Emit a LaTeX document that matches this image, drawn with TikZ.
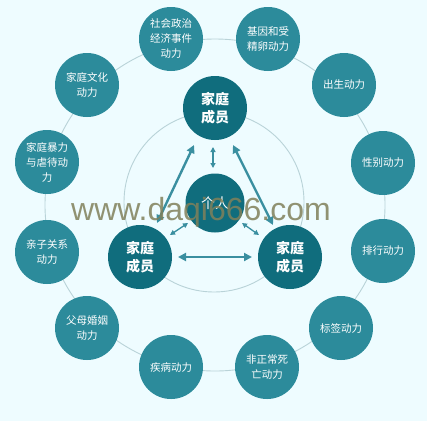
\documentclass[tikz,border=0pt]{standalone}
\usepackage{fontspec}
\setmainfont{Liberation Sans}
\newfontfamily\cjk{Noto Sans CJK SC}
\usetikzlibrary{arrows.meta}
\definecolor{bgc}{HTML}{EEFCFF}
\definecolor{outerc}{HTML}{2C8B9B}
\definecolor{innerc}{HTML}{106D7D}
\definecolor{ringc}{HTML}{B9D3D8}
\definecolor{arrc}{HTML}{3A8FA0}
\definecolor{wmc}{HTML}{80805A}
\tikzset{
  outernode/.style={circle, fill=outerc, minimum size=64pt, inner sep=0pt, text=white,
    font=\cjk\fontsize{10.5}{15}\selectfont, align=center},
  innernode/.style={circle, fill=innerc, minimum size=64pt, inner sep=0pt, text=white,
    font=\cjk\bfseries\fontsize{14}{17.5}\selectfont, align=center},
  centernode/.style={circle, fill=innerc, minimum size=59pt, inner sep=0pt, text=white,
    font=\cjk\fontsize{14}{17}\selectfont, align=center},
  ring/.style={draw=ringc, line width=0.9pt},
  bigarrow/.style={draw=arrc, line width=2.4pt, {Triangle[length=8pt,width=8pt]}-{Triangle[length=8pt,width=8pt]}},
  smallarrow/.style={draw=arrc, line width=1.3pt, {Triangle[length=5pt,width=5pt]}-{Triangle[length=5pt,width=5pt]}},
}
\begin{document}
\begin{tikzpicture}[x=1pt,y=-1pt]
\fill[bgc] (0,0) rectangle (427,421);
\useasboundingbox (0,0) rectangle (427,421);
% rings
\draw[ring] (215,205) ellipse (170 and 166);
\draw[ring] (214,202) circle (90);
% outer nodes
\node[outernode] (o1) at (171,39) {社会政治\\经济事件\\动力};
\node[outernode] (o2) at (268,39) {基因和受\\精卵动力};
\node[outernode] (o3) at (344,85) {出生动力};
\node[outernode] (o4) at (383,163) {性别动力};
\node[outernode] (o5) at (383,251) {排行动力};
\node[outernode] (o6) at (341,328) {标签动力};
\node[outernode] (o7) at (267,367) {非正常死\\亡动力};
\node[outernode] (o8) at (171,367) {疾病动力};
\node[outernode] (o9) at (87,328) {父母婚姻\\动力};
\node[outernode] (o10) at (47,252) {亲子关系\\动力};
\node[outernode] (o11) at (47,162) {家庭暴力\\与虐待动\\力};
\node[outernode] (o12) at (87,85) {家庭文化\\动力};
% inner nodes
\node[innernode] (t) at (215,108) {家庭\\成员};
\node[innernode] (l) at (140,257) {家庭\\成员};
\node[innernode] (r) at (290,257) {家庭\\成员};
\node[centernode] (c) at (215,203) {个人};
% arrows
\draw[bigarrow] ([shift={(-21,37)}]t.center) -- ([shift={(17,-34)}]l.center);
\draw[bigarrow] ([shift={(18,37)}]t.center) -- ([shift={(-17,-32)}]r.center);
\draw[bigarrow] ([shift={(38,0)}]l.center) -- ([shift={(-38,0)}]r.center);
\draw[smallarrow] ([shift={(-2,39)}]t.center) -- ([shift={(-2,-35)}]c.center);
\draw[smallarrow] ([shift={(-27,20)}]c.center) -- ([shift={(30,-22)}]l.center);
\draw[smallarrow] ([shift={(27,20)}]c.center) -- ([shift={(-31,-22)}]r.center);
% watermark
\node[text=wmc, opacity=0.85, font=\fontsize{32}{32}\selectfont, anchor=base, inner sep=0pt] (wm) at (201,220) {www.daqi666.com};
\end{tikzpicture}
\end{document}
